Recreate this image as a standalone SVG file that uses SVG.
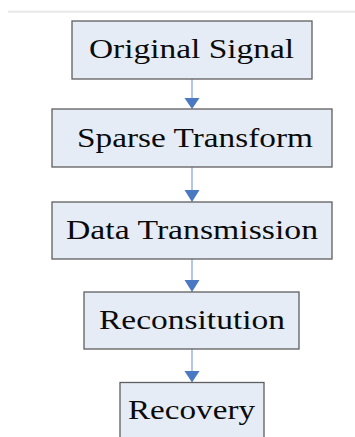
<svg xmlns="http://www.w3.org/2000/svg" width="355" height="437" viewBox="0 0 355 437">
<defs>
<style>
.box{fill:#e6ecf6;stroke:#5f5f5f;stroke-width:1.3}
.lbl{font-family:"Liberation Serif","Times New Roman",serif;font-size:28px;fill:#0a0a0a}
.con{stroke:#9bb6de;stroke-width:1.5;fill:none}
.head{fill:#4a78c2}
</style>
</defs>
<rect x="0" y="0" width="355" height="437" fill="#ffffff"/>
<line x1="8" y1="11.7" x2="355" y2="11.7" stroke="#e8e8e8" stroke-width="2"/>
<g id="connectors">
<line class="con" x1="192" y1="79" x2="192" y2="99"/>
<polygon class="head" points="184.5,98 199.5,98 192,109"/>
<line class="con" x1="192" y1="167" x2="192" y2="191"/>
<polygon class="head" points="184.5,190 199.5,190 192,202"/>
<line class="con" x1="192" y1="259" x2="192" y2="281"/>
<polygon class="head" points="184.5,280 199.5,280 192,292"/>
<line class="con" x1="192" y1="349" x2="192" y2="372"/>
<polygon class="head" points="184.5,371 199.5,371 192,382.5"/>
</g>
<g id="node-original-signal">
<rect class="box" x="72" y="21" width="240" height="58"/>
<text class="lbl" x="89" y="58" textLength="205" lengthAdjust="spacingAndGlyphs">Original Signal</text>
</g>
<g id="node-sparse-transform">
<rect class="box" x="52" y="109" width="280" height="58"/>
<text class="lbl" x="77" y="147" textLength="236" lengthAdjust="spacingAndGlyphs">Sparse Transform</text>
</g>
<g id="node-data-transmission">
<rect class="box" x="52" y="202" width="280" height="57"/>
<text class="lbl" x="66" y="239" textLength="252" lengthAdjust="spacingAndGlyphs">Data Transmission</text>
</g>
<g id="node-reconsitution">
<rect class="box" x="84" y="292" width="215" height="57"/>
<text class="lbl" x="99" y="329" textLength="186" lengthAdjust="spacingAndGlyphs">Reconsitution</text>
</g>
<g id="node-recovery">
<rect class="box" x="120" y="382.5" width="144" height="60"/>
<text class="lbl" x="128" y="419" textLength="127" lengthAdjust="spacingAndGlyphs">Recovery</text>
</g>
</svg>
